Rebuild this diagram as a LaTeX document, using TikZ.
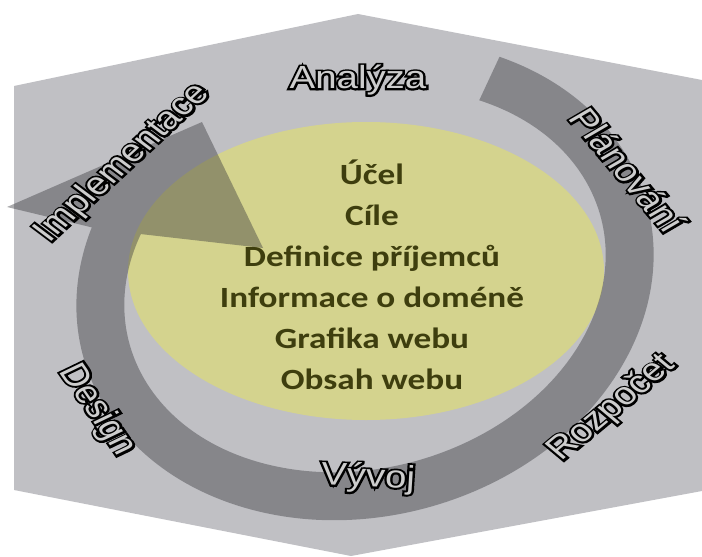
\documentclass[tikz,border=0pt]{standalone}
\usepackage{fontspec}
\setmainfont{Liberation Sans}
\newfontfamily\listfont{Carlito}
\newfontfamily\outlinefont[FakeBold=12]{Liberation Sans}
\definecolor{cubegray}{RGB}{192,192,196}
\definecolor{ovalyellow}{RGB}{212,211,142}
\definecolor{ringgray}{RGB}{55,55,60}
\definecolor{listtext}{RGB}{62,62,14}
\definecolor{labelfill}{RGB}{205,205,205}
\tikzset{every picture/.style={line width=0.75pt}}
\tikzset{
phase/.style={font=\fontsize{24}{24}\selectfont, inner sep=0pt, xscale=1.2},
goallist/.style={text=listtext, font=\listfont\bfseries\fontsize{22}{30.75}\selectfont, align=center, inner sep=0pt, xscale=1.2}
}
\newcommand{\phasetext}[1]{\rlap{\outlinefont\color{black}#1}\textcolor{labelfill}{#1}}

\begin{document}
\begin{tikzpicture}[x=0.75pt,y=0.75pt,yscale=-1,xscale=1]
\useasboundingbox (0,0) rectangle (702,556);

%Shape: Hexagon
\fill[cubegray] (14,86) -- (358,14) -- (702,80) -- (702,491) -- (351,556) -- (14,490) -- cycle ;
%Shape: Ellipse
\fill[ovalyellow] (366,271) circle [x radius=238, y radius=149] ;

%Arrow head corners
\coordinate (hbout) at (7,207) ;
\coordinate (htip) at (202,122) ;
\coordinate (hbin) at (263,248) ;
%Shape: Circular Arrow
\begin{scope}[shift={(365,280)},rotate=-15]
\fill[ringgray,fill opacity=0.42] (-50:292 and 236) arc [start angle=-50,end angle=211,x radius=292,y radius=236] -- (hbout) -- (htip) -- (hbin) -- (213:244 and 188) arc [start angle=213,end angle=-50,x radius=244,y radius=188] -- cycle ;
\end{scope}

%Text Node
\node[goallist] (goals) at (372,275) {Účel\\Cíle\\Definice příjemců\\Informace o doméně\\Grafika webu\\Obsah webu};

%Text Node
\node[phase] (analyza) at (358,80) {\phasetext{Analýza}};
%Text Node
\node[phase,rotate=-55] (planovani) at (628,170) {\phasetext{Plánování}};
%Text Node
\node[phase,rotate=45] (rozpocet) at (612,408) {\phasetext{Rozpočet}};
%Text Node
\node[phase,rotate=-3] (vyvoj) at (368,478) {\phasetext{Vývoj}};
%Text Node
\node[phase,rotate=-60] (design) at (97,410) {\phasetext{Design}};
%Text Node
\node[phase,rotate=48] (implementace) at (123,163) {\phasetext{Implementace}};

\end{tikzpicture}
\end{document}
